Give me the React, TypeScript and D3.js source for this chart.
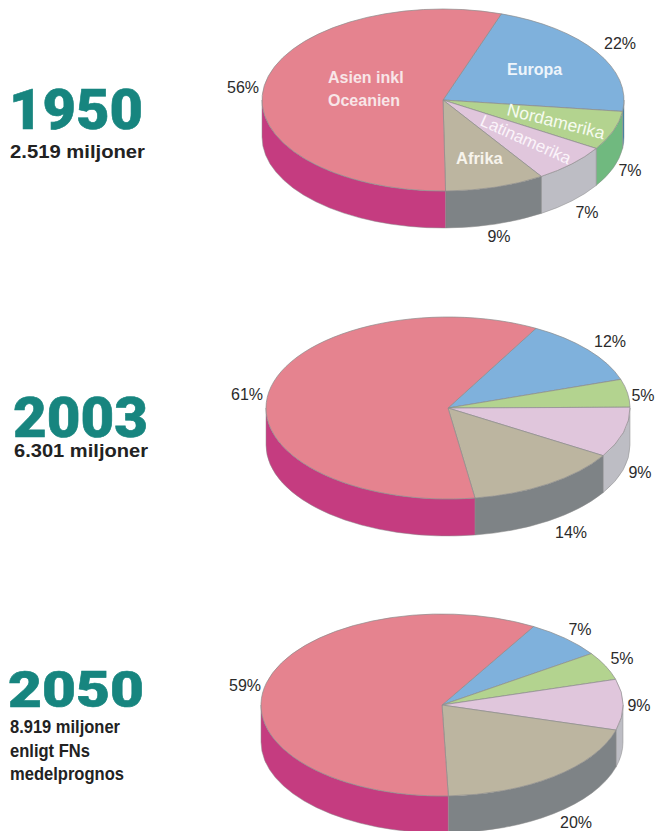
import React from "react";
import * as d3 from "d3";

const width = 655;
const height = 831;
const FONT = "'Liberation Sans', Arial, sans-serif";

const regions = ["Europa", "Nordamerika", "Latinamerika", "Afrika", "Asien inkl Oceanien"];
const shares1950 = [22, 7, 7, 9, 56];
const shares2003 = [12, 5, 9, 14, 61];
const shares2050 = [7, 5, 9, 20, 59];

const topColors = ["#7fb1dc", "#b3d38f", "#e0c6dc", "#bcb5a0", "#e5838f"];
const sideColors = ["#2f80ab", "#70b97f", "#bdbdc4", "#7e8386", "#c53c80"];

// layout of each pie
const pies = [
  {
    shares: shares1950, cx: 443, cy: 100, rx: 181, ry: 91, start: 18.8,
    labels: [[620, 43], [630, 170], [587, 212], [499, 236], [243, 87]],
  },
  {
    shares: shares2003, cx: 448, cy: 408, rx: 182, ry: 91, start: 28.9,
    labels: [[610, 341], [643, 395], [640, 472], [571, 532], [247, 394]],
  },
  {
    shares: shares2050, cx: 442, cy: 705, rx: 181, ry: 91, start: 30.4,
    labels: [[580, 629], [622, 658], [639, 705], [576, 822], [245, 685]],
  },
];
const depth = 37;

const titles = [
  { text: "1950", x: 9, y: 129, w: 134, size: 55 },
  { text: "2003", x: 13, y: 437, w: 135, size: 55 },
  { text: "2050", x: 8, y: 707, w: 136, size: 50 },
];
const subtitles = [
  { text: "2.519 miljoner", x: 10, y: 158, w: 135, size: 17.5 },
  { text: "6.301 miljoner", x: 14, y: 457, w: 134, size: 17.5 },
  { text: "8.919 miljoner", x: 10, y: 733, w: 110, size: 17.5 },
  { text: "enligt FNs", x: 10, y: 757, w: 80, size: 17.5 },
  { text: "medelprognos", x: 10, y: 780, w: 114, size: 17.5 },
];

// text on the 1950 slices
const sliceLabels = [
  { text: "Asien inkl", x: 328, y: 83, bold: true, angle: 0, size: 16, fill: "#f8e6e8" },
  { text: "Oceanien", x: 328, y: 106, bold: true, angle: 0, size: 16, fill: "#f8e6e8" },
  { text: "Europa", x: 507, y: 75, bold: true, angle: 0, size: 16, fill: "#eef5fb" },
  { text: "Afrika", x: 456, y: 164, bold: true, angle: 0, size: 16.5, fill: "#f7f4ec" },
  { text: "Nordamerika", x: 506, y: 115, bold: false, angle: 14, size: 17.5, fill: "#f6fbef" },
  { text: "Latinamerika", x: 479, y: 125, bold: false, angle: 24, size: 17, fill: "#fbf4fa" },
];

const pieLayout = d3.pie<number>().sort(null);
const rad = (deg: number) => (deg * Math.PI) / 180;

function Pie({ shares, cx, cy, rx, ry, start, labels }: (typeof pies)[number]) {
  const slices = pieLayout.startAngle(rad(start)).endAngle(rad(start + 360))(shares);
  const arc = d3.arc<d3.PieArcDatum<number>>().innerRadius(0).outerRadius(rx);
  const k = ry / rx;
  const drop = depth / k;

  // wall of one slice, front half of the disc only (d3 angle PI/2..3PI/2)
  const wall = (s: d3.PieArcDatum<number>) => {
    const from = Math.max(s.startAngle, Math.PI / 2);
    const to = Math.min(s.endAngle, (3 * Math.PI) / 2);
    if (to <= from) return "";
    const p = d3.path();
    p.moveTo(rx * Math.cos(from - Math.PI / 2), rx * Math.sin(from - Math.PI / 2));
    p.arc(0, 0, rx, from - Math.PI / 2, to - Math.PI / 2);
    p.arc(0, drop, rx, to - Math.PI / 2, from - Math.PI / 2, true);
    p.closePath();
    return p.toString();
  };

  return (
    <g>
      <g transform={`translate(${cx},${cy}) scale(1,${k})`}>
        {slices.map((s, i) => (
          <path key={`w${i}`} d={wall(s)} fill={sideColors[i]} stroke="#8d8d8d" strokeWidth={0.5} vectorEffect="non-scaling-stroke" />
        ))}
        {slices.map((s, i) => (
          <path key={`t${i}`} d={arc(s) ?? ""} fill={topColors[i]} stroke="#8d8d8d" strokeWidth={0.7} vectorEffect="non-scaling-stroke" />
        ))}
      </g>
      {shares.map((v, i) => (
        <text key={regions[i]} x={labels[i][0]} y={labels[i][1]} dy="0.36em" textAnchor="middle" fontSize={16} fill="#2b2b2b">
          {v}%
        </text>
      ))}
    </g>
  );
}

export default function App() {
  return (
    <svg
      width={width}
      height={height}
      viewBox={`0 0 ${width} ${height}`}
      fontFamily={FONT}
      style={{ position: "absolute", left: 0, top: 0, display: "block", background: "#fff" }}
    >
      {pies.map((p) => (
        <Pie key={p.cy} {...p} />
      ))}
      {sliceLabels.map((d) => (
        <text
          key={d.text}
          transform={`translate(${d.x},${d.y}) rotate(${d.angle})`}
          fontSize={d.size}
          fontWeight={d.bold ? 700 : 400}
          fill={d.fill}
        >
          {d.text}
        </text>
      ))}
      {titles.map((d) => (
        <text
          key={d.text}
          x={d.x}
          y={d.y}
          fontFamily="Roboto, 'Liberation Sans', sans-serif"
          fontSize={d.size}
          fontWeight={900}
          fill="#17857f"
          stroke="#17857f"
          strokeWidth={0.6}
          textLength={d.w}
          lengthAdjust="spacingAndGlyphs"
        >
          {d.text}
        </text>
      ))}
      {subtitles.map((d) => (
        <text
          key={d.text}
          x={d.x}
          y={d.y}
          fontSize={d.size}
          fontWeight={700}
          fill="#222"
          textLength={d.w}
          lengthAdjust="spacingAndGlyphs"
        >
          {d.text}
        </text>
      ))}
    </svg>
  );
}
